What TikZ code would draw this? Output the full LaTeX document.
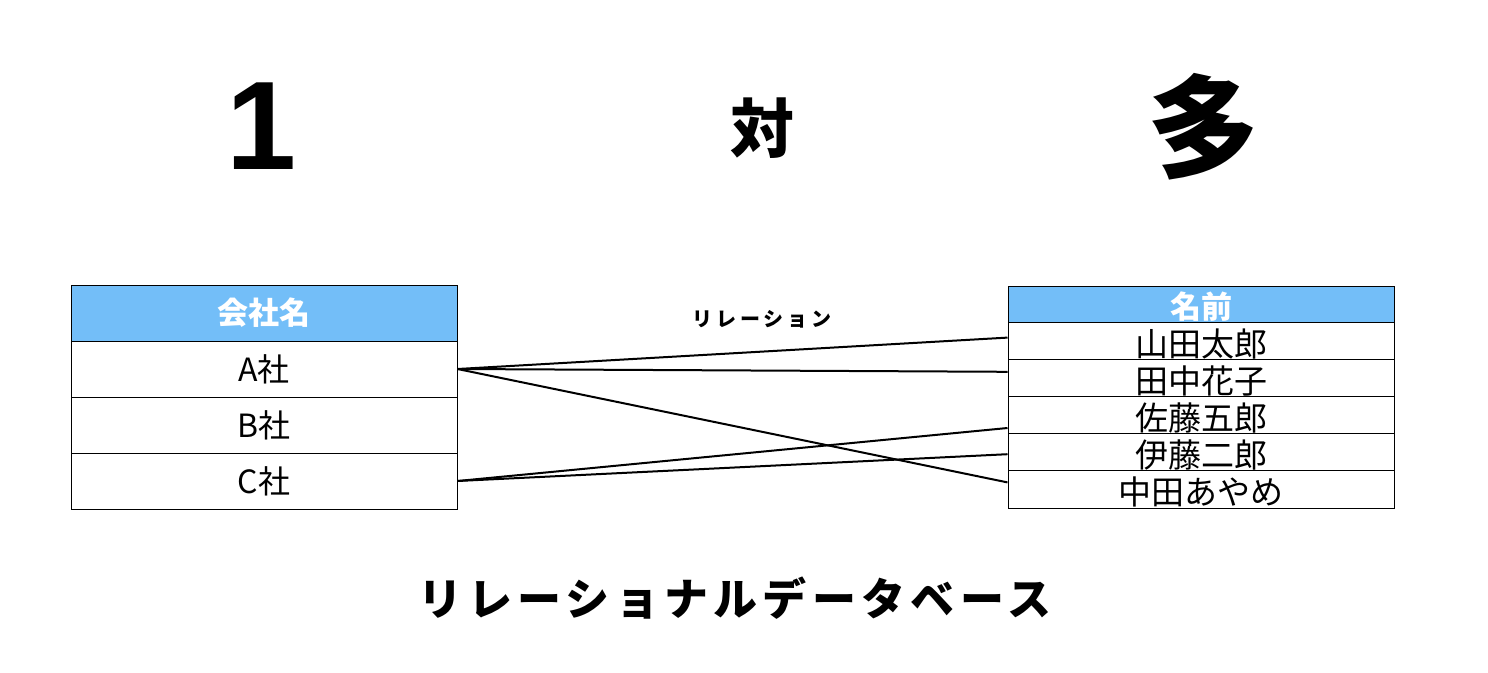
\documentclass[tikz,border=0pt]{standalone}
\usepackage{fontspec}
\setmainfont{Noto Sans CJK JP}
\newfontfamily\digitfont{Liberation Sans}
\definecolor{headblue}{RGB}{115,190,248}
\begin{document}
\begin{tikzpicture}[x=1pt, y=-1pt,
    cell/.style={rectangle, draw, line width=1pt, inner sep=0pt, minimum width=386pt},
    companycell/.style={cell, minimum height=56pt, font=\fontsize{32}{32}\selectfont},
    namecell/.style={cell, minimum height=37.2pt, text height=31pt, text depth=0pt, font=\fontsize{33}{33}\selectfont},
    header/.style={fill=headblue, text=white, font=\bfseries\fontsize{31}{31}\selectfont},
    link/.style={line width=2pt},
    big/.style={font=\bfseries\fontsize{#1}{#1}\selectfont}
]
    \useasboundingbox (0,0) rectangle (1488,672);

    \node[font=\digitfont\bfseries\fontsize{126}{126}\selectfont] (one) at (262,126) {1};
    \node[big=64] (tai) at (762,128) {対};
    \node[big=112] (many) at (1203,127) {多};

    \node[companycell, header] (company) at (264,313) {会社名};
    \node[companycell] (a) at (264,369) {A社};
    \node[companycell] (b) at (264,425) {B社};
    \node[companycell] (c) at (264,481) {C社};

    \node[namecell, header, minimum height=36pt, text height=28pt] (name) at (1201,304) {名前};
    \node[namecell] (yamada) at (1201,340.6) {山田太郎};
    \node[namecell] (tanaka) at (1201,377.8) {田中花子};
    \node[namecell] (sato) at (1201,415) {佐藤五郎};
    \node[namecell] (ito) at (1201,452.2) {伊藤二郎};
    \node[namecell] (nakata) at (1201,489.4) {中田あやめ};

    \node[big=20] (relation) at (762,319) {\addfontfeature{LetterSpace=20}リレーション};

    \draw[link] (a.east) -- ([yshift=3pt]yamada.west);
    \draw[link] (a.east) -- ([yshift=6pt]tanaka.west);
    \draw[link] (a.east) -- ([yshift=7pt]nakata.west);
    \draw[link] (c.east) -- ([yshift=-13pt]sato.west);
    \draw[link] (c.east) -- ([yshift=-2pt]ito.west);

    \node[big=44] (title) at (735,598) {\addfontfeature{LetterSpace=12}リレーショナルデータベース};
\end{tikzpicture}
\end{document}
